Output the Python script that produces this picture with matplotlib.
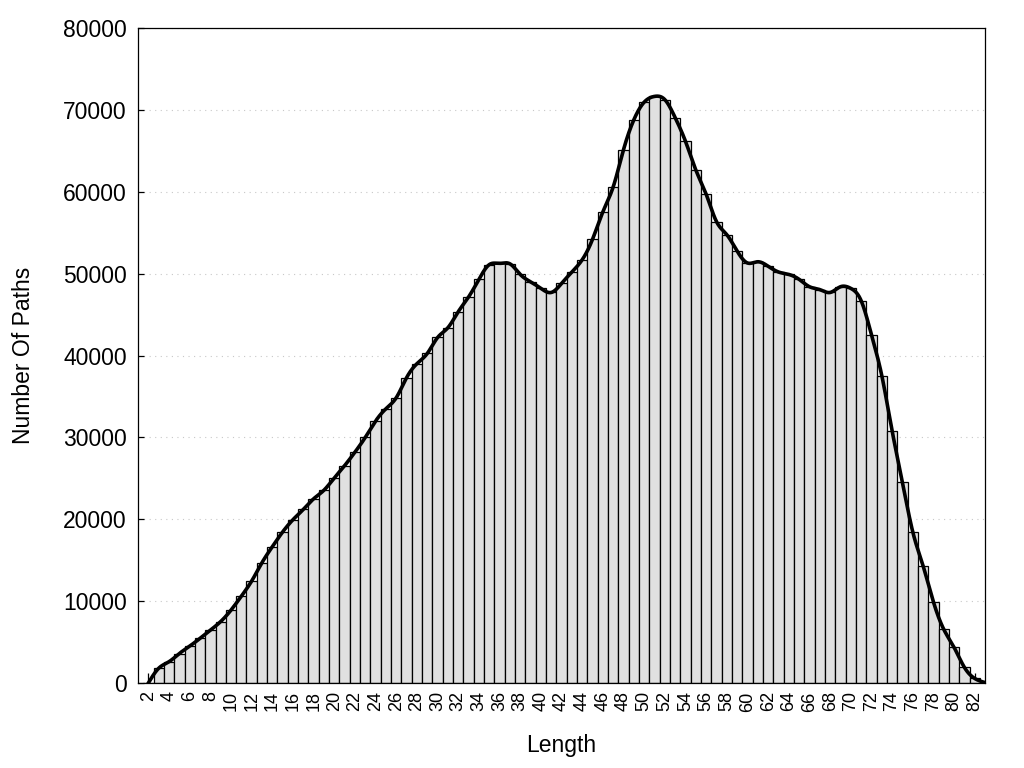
import numpy as np
import matplotlib
matplotlib.use('Agg')
import matplotlib.pyplot as plt

plt.rcParams['font.family'] = ['Liberation Sans', 'DejaVu Sans']

# path length and number of paths with that length
lengths = list(range(2, 84))
paths = [
    0, 1800, 2600, 3600, 4500, 5450, 6450, 7500, 8900, 10600,      # 2-11
    12450, 14700, 16650, 18450, 19950, 21200, 22500, 23550, 25050, 26550,  # 12-21
    28200, 30000, 32000, 33500, 34850, 37300, 39000, 40250, 42200, 43400,  # 22-31
    45350, 47150, 49300, 51100, 51250, 51200, 49900, 49000, 48200, 47700,  # 32-41
    48800, 50200, 51700, 54200, 57550, 60600, 65150, 68800, 70950, 71650,  # 42-51
    71250, 69050, 66150, 62650, 59700, 56350, 54750, 52750, 51300, 51450,  # 52-61
    50900, 50200, 49900, 49300, 48400, 48050, 47700, 48400, 48200, 46700,  # 62-71
    42550, 37550, 30800, 24500, 18450, 14300, 9900, 6550, 4350, 1900,      # 72-81
    550, 50,                                                               # 82-83
]
xtick_labels = list(range(2, 83, 2))
ytick_values = list(range(0, 80001, 10000))


def natural_spline(x, y, n=2000):
    # natural cubic spline, like gnuplot's "smooth csplines"
    x = np.asarray(x, float)
    y = np.asarray(y, float)
    h = np.diff(x)
    m = len(x)
    A = np.zeros((m, m))
    b = np.zeros(m)
    A[0, 0] = A[-1, -1] = 1
    for i in range(1, m - 1):
        A[i, i - 1] = h[i - 1]
        A[i, i] = 2 * (h[i - 1] + h[i])
        A[i, i + 1] = h[i]
        b[i] = 6 * ((y[i + 1] - y[i]) / h[i] - (y[i] - y[i - 1]) / h[i - 1])
    M = np.linalg.solve(A, b)
    xs = np.linspace(x[0], x[-1], n)
    idx = np.clip(np.searchsorted(x, xs) - 1, 0, m - 2)
    x0, x1 = x[idx], x[idx + 1]
    hh = x1 - x0
    t0, t1 = x1 - xs, xs - x0
    ys = (M[idx] * t0 ** 3 + M[idx + 1] * t1 ** 3) / (6 * hh) \
        + (y[idx] / hh - M[idx] * hh / 6) * t0 \
        + (y[idx + 1] / hh - M[idx + 1] * hh / 6) * t1
    return xs, ys


fig = plt.figure(figsize=(10.24, 7.68), dpi=100)
ax = fig.add_axes([0.1348, 0.1107, 0.8272, 0.8528])

ax.bar(lengths, paths, width=1.0, color='#e0e0e0', edgecolor='black',
       linewidth=0.9, zorder=2)
xs, ys = natural_spline(lengths, paths)
ax.plot(xs, ys, color='black', linewidth=2.6, zorder=3)

ax.set_xlim(1, 83)
ax.set_ylim(0, 80000)
ax.set_xticks(xtick_labels)
ax.set_xticklabels([str(v) for v in xtick_labels], rotation=90, fontsize=13)
ax.set_yticks(ytick_values)
ax.set_yticklabels([str(v) for v in ytick_values], fontsize=16.5)
ax.tick_params(axis='x', direction='in', length=7, width=0.9, pad=6)
ax.tick_params(axis='y', direction='in', length=4, width=0.9, pad=8)
ax.yaxis.grid(True, color='#c8c8c8', linestyle=(0, (1, 4)), linewidth=0.8, zorder=0)
ax.set_axisbelow(True)
for s in ax.spines.values():
    s.set_linewidth(0.9)

ax.set_xlabel('Length', fontsize=16.5, labelpad=16)
ax.set_ylabel('Number Of Paths', fontsize=16.5, labelpad=20)

fig.savefig('out.png', dpi=100)
